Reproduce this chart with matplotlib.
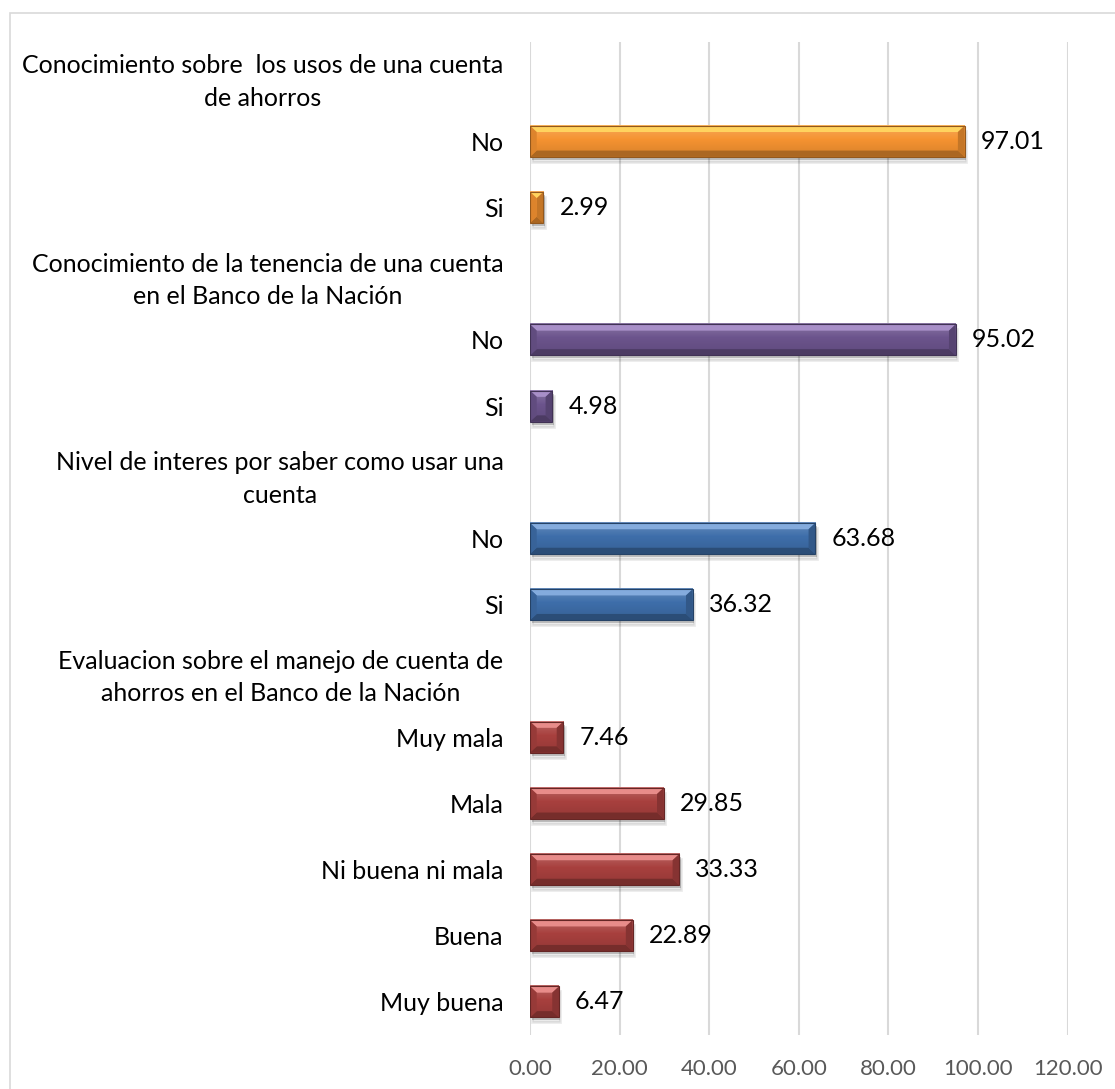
import numpy as np
import matplotlib
matplotlib.use("Agg")
import matplotlib.pyplot as plt
import matplotlib.transforms as mtransforms
from matplotlib.patches import Polygon, Rectangle
from matplotlib.colors import to_rgb

plt.rcParams['font.family'] = ['Lato', 'DejaVu Sans']

# survey blocks, top to bottom
uso_title = "Conocimiento sobre  los usos de una cuenta\nde ahorros"
uso_labels = ["No", "Si"]
uso_values = [97.01, 2.99]

tenencia_title = "Conocimiento de la tenencia de una cuenta\nen el Banco de la Nación"
tenencia_labels = ["No", "Si"]
tenencia_values = [95.02, 4.98]

interes_title = "Nivel de interes por saber como usar una\ncuenta"
interes_labels = ["No", "Si"]
interes_values = [63.68, 36.32]

eval_title = "Evaluacion sobre el manejo de cuenta de\nahorros en el Banco de la Nación"
eval_labels = ["Muy mala", "Mala", "Ni buena ni mala", "Buena", "Muy buena"]
eval_values = [7.46, 29.85, 33.33, 22.89, 6.47]

x_ticks = [0, 20, 40, 60, 80, 100, 120]

# (face colour, top bevel highlight)
palettes = [
    ("#F59331", "#FFD35E"),
    ("#6C548D", "#A88FC8"),
    ("#3E6EAA", "#84ABDD"),
    ("#A8403E", "#E88C8A"),
]

groups = [
    (uso_title, uso_labels, uso_values),
    (tenencia_title, tenencia_labels, tenencia_values),
    (interes_title, interes_labels, interes_values),
    (eval_title, eval_labels, eval_values),
]


def mix(c, other, t):
    c = np.array(to_rgb(c))
    o = np.array(to_rgb(other))
    return tuple(c * (1 - t) + o * t)


def bevel_bar(ax, y, v, base, top, h=0.235):
    bx = min(1.5, v / 2)
    by = 0.095
    y0, y1 = y - h, y + h  # y0 is drawn on top (axis inverted)

    # soft drop shadow
    for off, a, grow in [(3, 0.2, 0), (5, 0.08, 2)]:
        tr = mtransforms.offset_copy(ax.transData, fig=ax.figure,
                                     x=1.5, y=-off, units='dots')
        ax.add_patch(Rectangle((0, y0), v, 2 * h, transform=tr,
                               facecolor='black', alpha=a, lw=grow,
                               edgecolor='black', zorder=1.5))

    # face with a light vertical gradient
    n = 32
    t = np.linspace(0, 1, n)
    light = np.array(mix(base, 'white', 0.2))
    mid = np.array(to_rgb(base))
    dark = np.array(mix(base, 'black', 0.12))
    grad = np.where(t[:, None] < 0.45,
                    light + (mid - light) * (t[:, None] / 0.45),
                    mid + (dark - mid) * ((t[:, None] - 0.45) / 0.55))
    ax.imshow(grad[:, None, :], extent=(0, v, y1, y0), origin='upper',
              aspect='auto', interpolation='bilinear', zorder=2)

    bevels = [
        ([(0, y0), (v, y0), (v - bx, y0 + by), (bx, y0 + by)], top),
        ([(0, y1), (v, y1), (v - bx, y1 - by), (bx, y1 - by)],
         mix(base, 'black', 0.3)),
        ([(v, y0), (v, y1), (v - bx, y1 - by), (v - bx, y0 + by)],
         mix(base, 'black', 0.2)),
        ([(0, y0), (0, y1), (bx, y1 - by), (bx, y0 + by)],
         mix(base, 'black', 0.1)),
    ]
    for pts, col in bevels:
        ax.add_patch(Polygon(pts, closed=True, facecolor=col,
                             edgecolor='none', zorder=3))
    ax.add_patch(Rectangle((0, y0), v, 2 * h, facecolor='none',
                           edgecolor=mix(base, 'black', 0.4), lw=0.8,
                           zorder=4))


fig = plt.figure(figsize=(11.15, 10.89), dpi=100)
fig.patches.append(Rectangle((10 / 1115, -0.05), 1.2, 1.05 - 13 / 1089,
                             transform=fig.transFigure, fill=False,
                             edgecolor='#D9D9D9', lw=1.2))
ax = fig.add_axes([530 / 1115, 1 - 1035 / 1089, 537.6 / 1115, 993 / 1089])

row_labels = []
row = 0
for (title, labels, values), (base, top) in zip(groups, palettes):
    row_labels.append(title)
    row += 1
    for lab, val in zip(labels, values):
        row_labels.append(lab)
        bevel_bar(ax, row, val, base, top)
        ax.annotate(f"{val:.2f}", (val, row), xytext=(16, 0),
                    textcoords='offset pixels', va='center', ha='left',
                    fontsize=18, color='black')
        row += 1

ax.set_yticks(range(len(row_labels)))
ax.set_yticklabels(row_labels, fontsize=18, color='black')
for lbl in ax.get_yticklabels():
    lbl.set_multialignment('center')
    lbl.set_linespacing(1.5)

ax.set_xticks(x_ticks)
ax.set_xticklabels([f"{t:.2f}" for t in x_ticks], fontsize=16,
                   color='#595959')
ax.set_xlim(0, 120)
ax.set_ylim(len(row_labels) - 0.5, -0.5)
ax.tick_params(axis='both', length=0)
ax.tick_params(axis='y', pad=19)
ax.tick_params(axis='x', pad=17)
ax.grid(axis='x', color='#D9D9D9', lw=1.5)
ax.set_axisbelow(True)
for s in ax.spines.values():
    s.set_visible(False)

fig.savefig("out.png", dpi=100)
